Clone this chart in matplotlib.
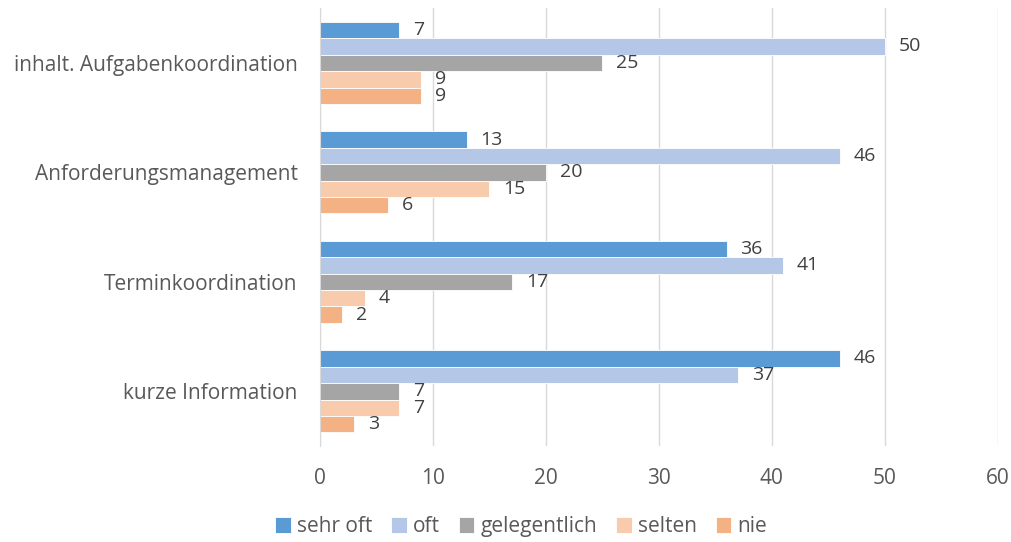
import numpy as np
import matplotlib.pyplot as plt

plt.rcParams['font.family'] = ['Open Sans', 'DejaVu Sans']

categories = ["kurze Information", "Terminkoordination",
              "Anforderungsmanagement", "inhalt. Aufgabenkoordination"]
series = ["sehr oft", "oft", "gelegentlich", "selten", "nie"]
sehr_oft = [46, 36, 13, 7]
oft = [37, 41, 46, 50]
gelegentlich = [7, 17, 20, 25]
selten = [7, 4, 15, 9]
nie = [3, 2, 6, 9]
values = [sehr_oft, oft, gelegentlich, selten, nie]
colors = ["#5B9BD5", "#B4C7E7", "#A5A5A5", "#F8CBAD", "#F4B183"]

txt = "#595959"
fig = plt.figure(figsize=(10.12, 5.42), dpi=100)
ax = fig.add_axes([0.316, 0.177, 0.67, 0.808])

y = np.arange(len(categories))
h = 0.15
for i, (name, vals, c) in enumerate(zip(series, values, colors)):
    pos = y + (2 - i) * h
    ax.barh(pos, vals, height=h, color=c, edgecolor="white",
            linewidth=0.6, label=name, zorder=2)
    for p, v in zip(pos, vals):
        ax.annotate(str(v), (v, p), xytext=(10, 0), textcoords="offset points",
                    va="center", ha="left", fontsize=14, color="#404040")

ax.set_xlim(0, 60)
ax.set_ylim(-0.5, 3.5)
ax.set_xticks(range(0, 61, 10))
ax.set_yticks(y)
ax.set_yticklabels(categories)
ax.tick_params(axis="both", length=0, labelsize=15, colors=txt)
ax.tick_params(axis="x", pad=16)
ax.tick_params(axis="y", pad=16)
ax.grid(axis="x", color="#D9D9D9", linewidth=1, zorder=0)
for s in ["top", "right", "bottom"]:
    ax.spines[s].set_visible(False)
ax.spines["left"].set_color("#D9D9D9")

fig.legend(loc="center", bbox_to_anchor=(0.515, 0.028), ncol=5,
           frameon=False, fontsize=15, handlelength=0.75, handleheight=0.75,
           handletextpad=0.3, columnspacing=0.9, labelcolor=txt)

fig.savefig("out.png", dpi=100)
